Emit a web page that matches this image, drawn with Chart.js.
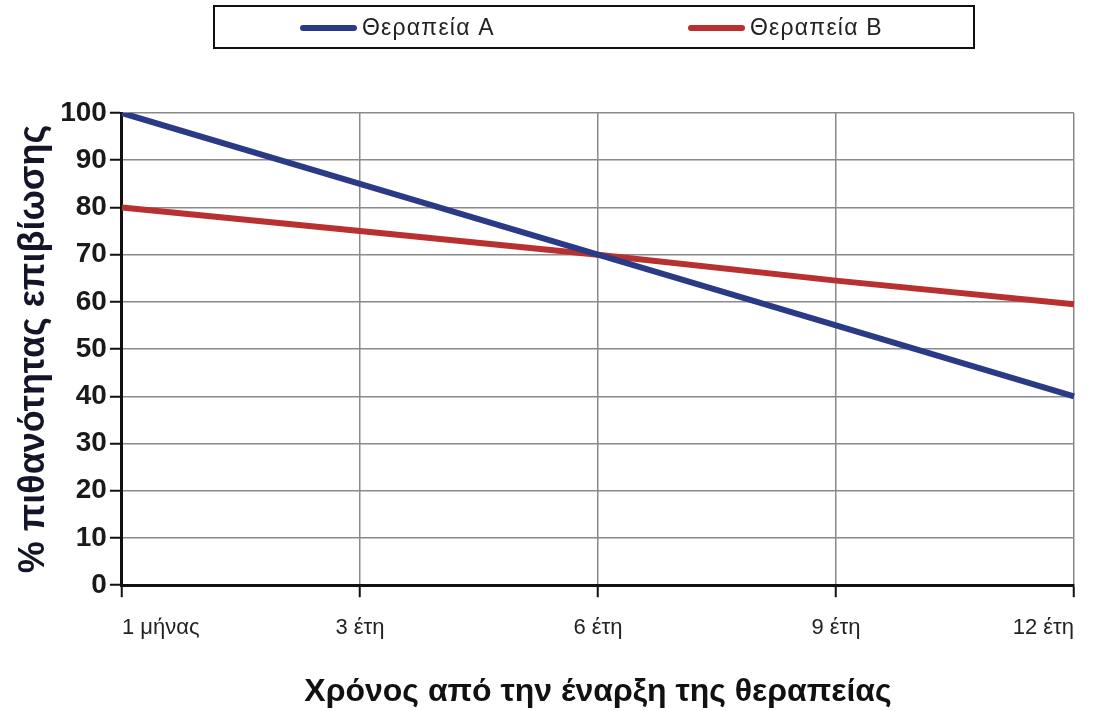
<!DOCTYPE html>
<html>
<head>
<meta charset="utf-8">
<script src="https://cdn.jsdelivr.net/npm/chart.js@4.4.1/dist/chart.umd.min.js"></script>
<style>
  html, body { margin: 0; padding: 0; background: #fff; }
  #wrap { position: relative; width: 1098px; height: 711px; }
  #legend {
    position: absolute; left: 213px; top: 5px; width: 758px; height: 40px;
    border: 2px solid #111; box-sizing: content-box;
    font-family: "Liberation Sans", Arial, sans-serif;
    font-size: 23px; letter-spacing: 1.2px; color: #222;
  }
  .item { position: absolute; top: 7px; display: flex; align-items: center; }
  .swatch { display: inline-block; width: 57px; height: 6px; border-radius: 3px; margin-right: 5px; }
</style>
</head>
<body>
<div id="wrap">
  <canvas id="chart" width="1098" height="711"></canvas>
  <div id="legend"></div>
</div>
<script>
// Καμπύλες επιβίωσης – δύο θεραπείες
const categories = ["1 μήνας", "3 έτη", "6 έτη", "9 έτη", "12 έτη"];
const seriesNames = ["Θεραπεία A", "Θεραπεία B"];
const therapyA = [100, 85, 70, 55, 40];
const therapyB = [80, 75, 70, 64.5, 59.5];
const yTicks = [0, 10, 20, 30, 40, 50, 60, 70, 80, 90, 100];

const colors = ["#2b3a86", "#b8302f"];

const ctx = document.getElementById("chart").getContext("2d");

const chart = new Chart(ctx, {
  type: "line",
  data: {
    labels: categories,
    datasets: [
      { label: seriesNames[0], data: therapyA, borderColor: colors[0], backgroundColor: colors[0],
        borderWidth: 6, pointRadius: 0, tension: 0 },
      { label: seriesNames[1], data: therapyB, borderColor: colors[1], backgroundColor: colors[1],
        borderWidth: 6, pointRadius: 0, tension: 0 }
    ]
  },
  options: {
    responsive: false,
    animation: false,
    layout: { padding: { top: 113, right: 24, bottom: 0, left: 12 } },
    plugins: {
      legend: { display: false },
      tooltip: { enabled: false }
    },
    scales: {
      x: {
        type: "category",
        offset: false,
        grid: { color: "#8a8a8a", lineWidth: 1.5, tickLength: 12, tickColor: "#111", tickWidth: 2 },
        border: { display: true, color: "#111", width: 3 },
        ticks: {
          align: "inner",
          color: "#222",
          padding: 18,
          font: { family: "'Liberation Sans', Arial", size: 22 }
        },
        title: {
          display: true,
          text: "Χρόνος από την έναρξη της θεραπείας",
          color: "#111",
          padding: { top: 13, bottom: 0 },
          font: { family: "'Liberation Sans', Arial", size: 32, weight: "bold" }
        }
      },
      y: {
        min: 0,
        max: 100,
        afterBuildTicks: (scale) => { scale.ticks = yTicks.map(v => ({ value: v })); },
        grid: { color: "#8a8a8a", lineWidth: 1.5, tickLength: 12, tickColor: "#111", tickWidth: 2 },
        border: { display: true, color: "#111", width: 3 },
        ticks: {
          color: "#1a1a1a",
          padding: 3,
          font: { family: "'Liberation Sans', Arial", size: 28, weight: "bold" }
        },
        title: {
          display: true,
          text: "% πιθανότητας επιβίωσης",
          color: "#15152a",
          padding: { top: 0, bottom: 2 },
          font: { family: "'Liberation Sans', Arial", size: 36, weight: "bold" }
        }
      }
    }
  }
});

// legend built from the datasets
const legend = document.getElementById("legend");
const legendLeft = [85, 473];
chart.data.datasets.forEach((ds, i) => {
  const item = document.createElement("div");
  item.className = "item";
  item.style.left = legendLeft[i] + "px";
  const sw = document.createElement("span");
  sw.className = "swatch";
  sw.style.background = ds.borderColor;
  const txt = document.createElement("span");
  txt.textContent = ds.label;
  item.appendChild(sw);
  item.appendChild(txt);
  legend.appendChild(item);
});
</script>
</body>
</html>
